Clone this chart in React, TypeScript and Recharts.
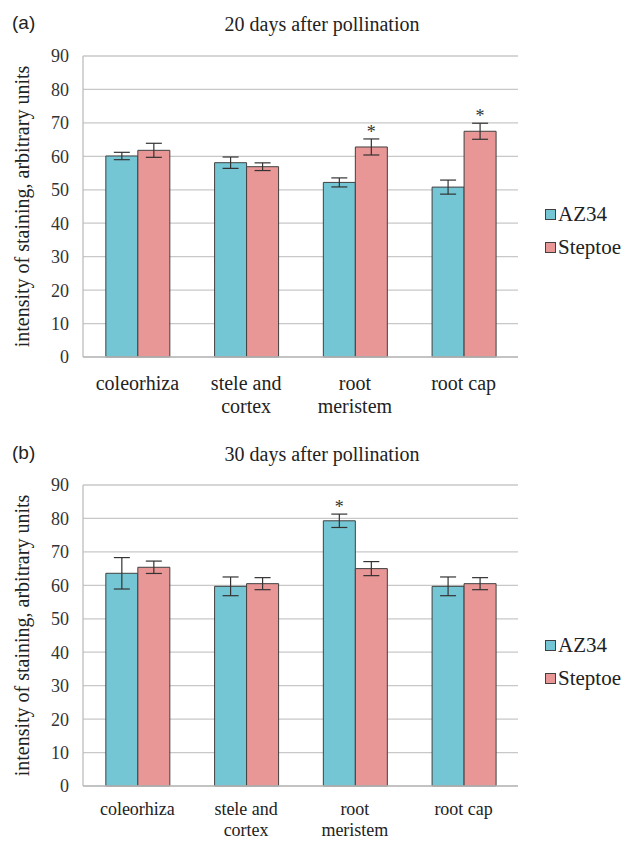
import React from "react";
import { BarChart, Bar, XAxis, YAxis, CartesianGrid, ErrorBar, LabelList, Legend } from "recharts";

const categories = ["coleorhiza", "stele and\ncortex", "root\nmeristem", "root cap"];
const yTicks = [0, 10, 20, 30, 40, 50, 60, 70, 80, 90];

// 20 days after pollination
const az20 = [60.1, 58.1, 52.2, 50.8];
const az20Err = [1.1, 1.7, 1.35, 2.1];
const az20Sig = [false, false, false, false];
const st20 = [61.8, 56.9, 62.8, 67.5];
const st20Err = [2.1, 1.15, 2.4, 2.4];
const st20Sig = [false, false, true, true];

// 30 days after pollination
const az30 = [63.6, 59.7, 79.3, 59.7];
const az30Err = [4.7, 2.8, 2.0, 2.8];
const az30Sig = [false, false, true, false];
const st30 = [65.4, 60.5, 65.0, 60.5];
const st30Err = [1.85, 1.8, 2.1, 1.8];
const st30Sig = [false, false, false, false];

const AZ = "#74c6d4";
const ST = "#e99696";
const SERIF = "'Liberation Serif', 'Times New Roman', 'DejaVu Serif', serif";

const makeTick = (first: number, gap: number, size: number) => (props: any) => {
  const { x, y, payload } = props;
  const lines = String(payload.value).split("\n");
  return (
    <text x={x} y={y} textAnchor="middle" fontFamily={SERIF} fontSize={size} fill="#222">
      {lines.map((l, i) => (
        <tspan key={i} x={x} dy={i === 0 ? first : gap}>{l}</tspan>
      ))}
    </text>
  );
};

const starLabel = (values: number[], errs: number[], sig: boolean[]) => (props: any) => {
  const { x, y, width, height, index } = props;
  if (!sig[index]) return null;
  const errPx = (errs[index] / values[index]) * height;
  const cy = y - errPx - 9;
  return (
    <text x={x + width / 2} y={cy + 8} textAnchor="middle" fontFamily={SERIF} fontSize={18} fill="#333">*</text>
  );
};

const LegendBox = () => (
  <div style={{ fontFamily: SERIF, fontSize: 21, color: "#222", lineHeight: "33px" }}>
    {[["AZ34", AZ], ["Steptoe", ST]].map(([name, c]) => (
      <div key={name} style={{ display: "flex", alignItems: "center", height: 33 }}>
        <span style={{ display: "inline-block", width: 9, height: 9, background: c, border: "1px solid #404040", marginRight: 2 }} />
        <span style={{ fontFamily: SERIF }}>{name}</span>
      </div>
    ))}
  </div>
);

function Panel({ tag, title, top, height, mTop, mBottom, legendTop, titleTop, lineFirst, lineGap, lineSize, az, azErr, azSig, st, stErr, stSig }: any) {
  const data = categories.map((c, i) => ({ name: c, az: az[i], azErr: azErr[i], st: st[i], stErr: stErr[i] }));
  const plotTop = mTop;
  const plotBottom = height - mBottom - 30;
  const Tick = makeTick(lineFirst, lineGap, lineSize);
  return (
    <div style={{ position: "absolute", left: 0, top, width: 626, height }}>
      <div style={{ position: "absolute", left: 12, top: titleTop - 1, fontFamily: "'Liberation Sans', Arial, sans-serif", fontSize: 19, color: "#222" }}>{tag}</div>
      <div style={{ position: "absolute", left: 222, width: 200, textAlign: "center", top: titleTop, fontFamily: SERIF, fontSize: 20, color: "#222", whiteSpace: "nowrap" }}>{title}</div>
      <BarChart width={626} height={height} data={data} margin={{ top: mTop, right: 108, bottom: mBottom, left: 0 }} barCategoryGap="21%" barGap={0}>
        <CartesianGrid vertical={false} stroke="#c8c8c8" strokeWidth={1.3} />
        <XAxis dataKey="name" height={30} interval={0} tickLine={false} tickSize={0} axisLine={{ stroke: "#bdbdbd", strokeWidth: 1.3 }} tick={<Tick />} />
        <YAxis
          width={83}
          domain={[0, 90]}
          ticks={yTicks}
          interval={0}
          tickLine={false}
          tickSize={0}
          tickMargin={14}
          axisLine={{ stroke: "#bdbdbd", strokeWidth: 1.3 }}
          tick={{ fontFamily: SERIF, fontSize: 18, fill: "#333" }}
          label={{
            content: () => {
              const cy = (plotTop + plotBottom) / 2;
              return (
                <text x={22} y={cy} transform={`rotate(-90 22 ${cy})`} textAnchor="middle" dominantBaseline="central" fontFamily={SERIF} fontSize={20} fill="#222">
                  intensity of staining, arbitrary units
                </text>
              );
            },
          }}
        />
        <Legend layout="vertical" verticalAlign="middle" align="center" content={<LegendBox />} wrapperStyle={{ left: 545, top: legendTop, width: 81, right: "auto", bottom: "auto" }} />
        <Bar dataKey="az" name="AZ34" fill={AZ} stroke="#404040" strokeWidth={1} isAnimationActive={false}>
          <ErrorBar dataKey="azErr" width={8} stroke="#333" strokeWidth={1.2} />
          <LabelList dataKey="az" content={starLabel(az, azErr, azSig)} />
        </Bar>
        <Bar dataKey="st" name="Steptoe" fill={ST} stroke="#404040" strokeWidth={1} isAnimationActive={false}>
          <ErrorBar dataKey="stErr" width={8} stroke="#333" strokeWidth={1.2} />
          <LabelList dataKey="st" content={starLabel(st, stErr, stSig)} />
        </Bar>
      </BarChart>
    </div>
  );
}

export default function App() {
  return (
    <div style={{ position: "absolute", left: 0, top: 0, width: 626, height: 841, background: "#fff", overflow: "hidden" }}>
      <Panel tag="(a)" title="20 days after pollination" top={0} height={420} mTop={56} mBottom={33} legendTop={198} titleTop={13} lineFirst={31} lineGap={23} lineSize={20}
        az={az20} azErr={az20Err} azSig={az20Sig} st={st20} stErr={st20Err} stSig={st20Sig} />
      <Panel tag="(b)" title="30 days after pollination" top={420} height={421} mTop={65} mBottom={25} legendTop={209} titleTop={23} lineFirst={27} lineGap={21} lineSize={18}
        az={az30} azErr={az30Err} azSig={az30Sig} st={st30} stErr={st30Err} stSig={st30Sig} />
    </div>
  );
}
